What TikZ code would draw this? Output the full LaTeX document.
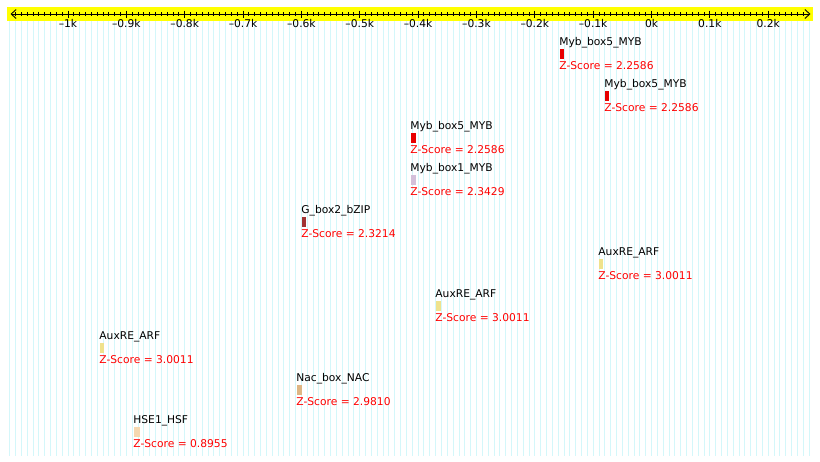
\documentclass[tikz,border=0pt]{standalone}
\usepackage{fontspec}
\setmainfont{DejaVu Sans}
\usetikzlibrary{arrows.meta}

\definecolor{bandyellow}{RGB}{255,255,0}
\definecolor{gridcyan}{RGB}{212,247,250}
\definecolor{mybred}{RGB}{232,0,0}
\definecolor{mybpurple}{RGB}{212,192,218}
\definecolor{gboxred}{RGB}{162,52,52}
\definecolor{auxkhaki}{RGB}{240,226,140}
\definecolor{nactan}{RGB}{222,182,132}
\definecolor{hsepeach}{RGB}{246,216,176}

% position (bp) -> x in px
\newcommand{\bpx}[1]{651.5+0.5835*(#1)}

\begin{document}
\begin{tikzpicture}[
  x=1pt, y=-1pt,
  font=\fontsize{10.7}{12}\selectfont,
  >={Straight Barb[length=5pt,width=9pt]},
  gridline/.style={draw=gridcyan, line width=0.9pt},
  tickmark/.style={draw=black, line width=0.9pt},
  ticklabel/.style={anchor=base, inner sep=0pt},
  motif/.style={anchor=base west, inner sep=0pt, text=black},
  score/.style={anchor=base west, inner sep=0pt, text=red},
]
\useasboundingbox (0,0) rectangle (820,461);
\fill[white] (0,0) rectangle (820,461);

% background grid
\foreach \p in {-1100,-1090,...,270}
  \draw[gridline] ({\bpx{\p}},21) -- ({\bpx{\p}},456);

% axis band
\fill[bandyellow] (7,7) rectangle (813,21);
\coordinate (axisL) at (10.5,14);
\coordinate (axisR) at (810.5,14);
\draw[<->, line width=0.9pt] (axisL) -- (axisR);

\foreach \p in {-1090,-1080,...,260}
  \draw[tickmark] ({\bpx{\p}},12) -- ({\bpx{\p}},16);

\foreach \p/\lab in {-1000/–1k,-900/–0.9k,-800/–0.8k,-700/–0.7k,-600/–0.6k,
    -500/–0.5k,-400/–0.4k,-300/–0.3k,-200/–0.2k,-100/–0.1k,0/0k,100/0.1k,200/0.2k}{
  \draw[tickmark] ({\bpx{\p}},10.5) -- ({\bpx{\p}},17.5);
  \node[ticklabel] (tick\p) at ({\bpx{\p}},27.5) {\lab};
}

% motifs
\foreach \i/\nm/\xx/\w/\col/\z in {
    1/Myb\_box5\_MYB/560/4/mybred/2.2586,
    2/Myb\_box5\_MYB/605/4/mybred/2.2586,
    3/Myb\_box5\_MYB/411/4.5/mybred/2.2586,
    4/Myb\_box1\_MYB/411/4.5/mybpurple/2.3429,
    5/G\_box2\_bZIP/302/3.5/gboxred/2.3214,
    6/AuxRE\_ARF/599/4/auxkhaki/3.0011,
    7/AuxRE\_ARF/436/5/auxkhaki/3.0011,
    8/AuxRE\_ARF/100/4/auxkhaki/3.0011,
    9/Nac\_box\_NAC/297/4.5/nactan/2.9810,
    10/HSE1\_HSF/134/6/hsepeach/0.8955}{
  \pgfmathsetmacro{\yy}{43+42*(\i-1)}
  \node[motif] (name\i) at (\xx-0.8,\yy+2.5) {\nm};
  \fill[\col] (\xx,\yy+5.5) rectangle ++(\w,10.5);
  \node[score] (score\i) at (\xx-0.8,\yy+26.5) {Z-Score = \z};
}
\end{tikzpicture}
\end{document}
